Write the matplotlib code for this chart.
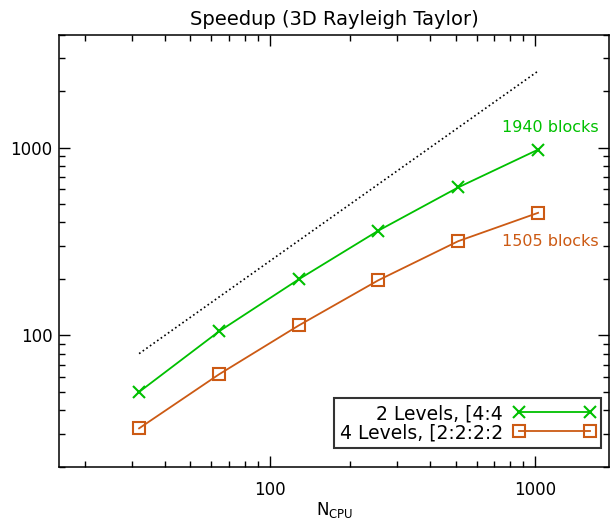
import matplotlib
matplotlib.use("Agg")
import matplotlib.pyplot as plt
from matplotlib.ticker import FuncFormatter, NullFormatter

# data
ncpu = [32, 64, 128, 256, 512, 1024]
speedup_2lev = [50, 105, 199, 362, 615, 977]
speedup_4lev = [32, 62, 113, 197, 318, 450]
ideal_x = [32, 1024]
ideal_y = [80, 2560]

green = "#00c000"
orange = "#cc5a14"

fig = plt.figure(figsize=(6.10, 5.24), dpi=100)
ax = fig.add_axes([0.0972, 0.1094, 0.9016, 0.8244])

ax.plot(ideal_x, ideal_y, ls=":", color="black", lw=1.2)
ax.plot(ncpu, speedup_2lev, color=green, lw=1.3, marker="x", ms=9, mew=1.5,
        label="2 Levels, [4:4")
ax.plot(ncpu, speedup_4lev, color=orange, lw=1.3, marker="s", ms=8, mew=1.5,
        mfc="none", label="4 Levels, [2:2:2:2")

ax.set_xscale("log")
ax.set_yscale("log")
ax.set_xlim(16, 1900)
ax.set_ylim(20, 4000)

ax.text(750, 1277, "1940 blocks", color=green, fontsize=11.5, va="center", ha="left")
ax.text(750, 317, "1505 blocks", color=orange, fontsize=11.5, va="center", ha="left")

ax.set_title("Speedup (3D Rayleigh Taylor)", fontsize=14, pad=7)
ax.set_xlabel(r"N$_{\rm CPU}$", fontsize=12, labelpad=1)

plain = FuncFormatter(lambda v, p: "%d" % round(v))
ax.xaxis.set_major_formatter(plain)
ax.yaxis.set_major_formatter(plain)
ax.xaxis.set_minor_formatter(NullFormatter())
ax.yaxis.set_minor_formatter(NullFormatter())

for s in ax.spines.values():
    s.set_linewidth(1.1)
ax.tick_params(which="both", direction="in", top=True, right=True, width=1.0)
ax.tick_params(which="major", length=8, labelsize=12)
ax.tick_params(which="minor", length=4.3)
ax.tick_params(axis="x", which="major", pad=10)
ax.tick_params(axis="y", which="major", pad=5)

leg = ax.legend(loc="lower right", bbox_to_anchor=(0.9855, 0.044), markerfirst=False,
                numpoints=2, handlelength=4.4, handletextpad=0.55, labelspacing=0.0,
                fontsize=13.5, fancybox=False, frameon=True, borderpad=0.3,
                borderaxespad=0.0)
leg.get_frame().set_edgecolor("black")
leg.get_frame().set_linewidth(1.5)

fig.savefig("out.png", dpi=100)
